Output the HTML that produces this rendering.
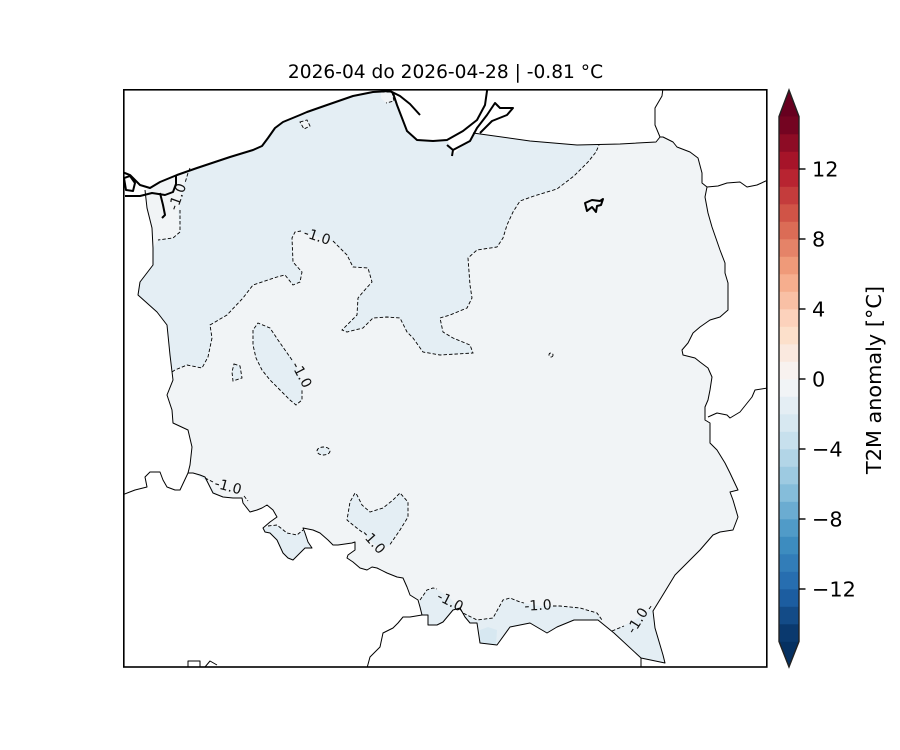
<!DOCTYPE html>
<html><head><meta charset="utf-8"><style>
html,body{margin:0;padding:0;background:#fff;}
svg{display:block;}
text{font-family:"DejaVu Sans","Liberation Sans",sans-serif;}
</style></head><body>
<svg width="900" height="750" viewBox="0 0 900 750" xmlns="http://www.w3.org/2000/svg">
<rect width="900" height="750" fill="#fff"/>
<defs><clipPath id="ax"><rect x="124" y="90" width="643" height="577"/></clipPath></defs>
<text x="445.5" y="78" font-size="18.6" text-anchor="middle" fill="#000">2026-04 do 2026-04-28 | -0.81 °C</text>
<g clip-path="url(#ax)">
<!-- Poland base fill -->
<path fill="#f1f4f6" stroke="none" d="M150,188 L160,182 L177,175 L197,168 L230,157 L253,150 L262,146 L268,138 L275,128 L283,122 L300,115 L307,112 L327,105 L353,96 L373,92 L390,91 L393,93 L397,105 L402,118 L407,131 L417,140 L433,141 L447,140 L453,150 L452,156 L460,148 L470,141 L473,133 L530,141 L577,145 L620,144 L656,142 L660,137 L663,137 L673,142 L677,147 L690,152 L698,158 L702,173 L702,183 L707,187 L705,197 L708,213 L712,227 L720,250 L725,263 L725,273 L728,283 L728,310 L720,317 L710,320 L700,327 L693,333 L688,343 L682,350 L683,355 L695,358 L700,362 L708,368 L712,377 L710,390 L708,400 L705,407 L705,420 L710,423 L710,443 L717,450 L725,463 L730,473 L738,490 L730,492 L733,500 L738,517 L733,530 L720,532 L713,535 L700,550 L695,555 L675,575 L661,598 L653,611 L655,628 L663,655 L665,663 L641,658 L614,633 L598,620 L574,620 L557,627 L547,633 L530,623 L510,627 L497,645 L480,643 L477,623 L470,623 L465,617 L460,608 L453,610 L443,622 L437,625 L428,625 L428,615 L422,615 L420,607 L418,600 L410,595 L407,587 L403,578 L397,577 L387,573 L377,568 L372,567 L367,570 L360,568 L353,562 L347,558 L348,555 L355,550 L355,542 L352,543 L338,545 L333,545 L328,540 L320,533 L313,530 L303,528 L305,533 L308,542 L312,548 L305,548 L300,553 L293,560 L288,558 L283,553 L277,540 L270,533 L265,532 L263,528 L270,522 L277,517 L273,510 L267,505 L262,508 L257,510 L250,512 L243,503 L242,498 L233,498 L223,497 L213,493 L208,483 L205,477 L200,475 L193,473 L188,473 L190,465 L192,447 L188,430 L173,423 L172,410 L167,395 L173,380 L170,355 L167,325 L157,312 L138,295 L140,282 L153,265 L153,248 L152,228 L147,208 L145,190 Z"/>
<!-- darker regions (-2..-1) -->
<g fill="#e4eef4" stroke="none">
<path d="M187,173 L183,188 L178,212 L180,232 L173,238 L158,240 L153,248 L153,265 L140,282 L138,295 L157,312 L167,325 L170,355 L172,372 L175,370 L187,365 L202,368 L208,357 L212,338 L210,325 L227,315 L243,298 L253,285 L277,277 L285,275 L293,285 L300,282 L302,272 L293,262 L292,238 L295,230 L310,234 L333,242 L347,255 L353,267 L368,268 L372,282 L363,292 L358,298 L357,315 L342,330 L347,332 L363,328 L373,318 L387,317 L400,318 L407,332 L413,338 L423,352 L440,355 L473,353 L470,345 L453,338 L443,332 L440,318 L450,315 L467,308 L472,298 L470,285 L468,258 L477,250 L497,247 L503,238 L507,225 L513,212 L520,201 L534,196 L557,189 L574,176 L588,162 L596,152 L599,145 L577,145 L530,141 L473,133 L470,141 L460,148 L452,156 L453,150 L447,140 L433,141 L417,140 L407,131 L402,118 L397,105 L393,93 L390,91 L373,92 L353,96 L327,105 L307,112 L300,115 L283,122 L275,128 L268,138 L262,146 L253,150 L230,157 L197,168 Z"/>
<path d="M258,323 L270,328 L278,340 L285,350 L292,358 L297,368 L302,385 L302,400 L296,405 L290,400 L280,390 L270,380 L262,370 L256,358 L253,345 L253,330 Z"/>
<path d="M234,364 L240,366 L242,378 L233,381 L232,372 Z"/>
<ellipse cx="323.5" cy="451" rx="6.5" ry="4"/>
<path d="M355,493 L350,502 L347,520 L353,525 L362,532 L375,545 L388,547 L400,530 L408,517 L408,502 L400,493 L393,500 L383,508 L370,512 L362,505 L357,495 Z"/>
<path d="M263,528 L277,525 L287,533 L297,535 L303,530 L305,533 L308,542 L312,548 L305,548 L300,553 L293,560 L288,558 L283,553 L277,540 L270,533 L265,532 Z"/>
<path d="M193,473 L200,475 L205,477 L208,483 L213,493 L218,495 L212,488 L205,480 Z"/>
<path d="M420,600 L427,590 L433,588 L440,591 L450,598 L463,613 L477,620 L493,618 L503,600 L510,598 L520,602 L540,606 L560,606 L580,608 L597,613 L602,620 L598,620 L574,620 L557,627 L547,633 L530,623 L510,627 L497,645 L480,643 L477,623 L470,623 L465,617 L460,608 L453,610 L443,622 L437,625 L428,625 L428,615 L422,615 L420,607 Z"/>
<path d="M614,630 L625,625 L638,618 L651,608 L653,611 L655,628 L663,655 L665,663 L641,658 L614,633 Z"/>
</g>
<path fill="#d7e8f1" d="M480,630 L488,627 L497,630 L496,645 L480,643 Z"/>
<!-- small light pockets -->
<path fill="#f1f4f6" d="M300,122 L307,120 L310,126 L304,129 Z"/>
<path fill="#f1f4f6" d="M381,92 L392,92 L394,101 L386,103 L381,98 Z"/>
<!-- dashed contours -->
<g fill="none" stroke="#000" stroke-width="0.9" stroke-dasharray="3.5,2">
<path d="M190,168 L188,173 L185,183"/>
<path d="M180,210 L180,232 L173,238 L158,240"/>
<path d="M172,372 L175,370 L187,365 L202,368 L208,357 L212,338 L210,325 L227,315 L243,298 L253,285 L277,277 L285,275 L293,285 L300,282 L302,272 L293,262 L292,238 L295,232 L301,231"/>
<path d="M333,241 L347,255 L353,267 L368,268 L372,282 L363,292 L358,298 L357,315 L342,330 L347,332 L363,328 L373,318 L387,317 L400,318 L407,332 L413,338 L423,352 L440,355 L473,353 L470,345 L453,338 L443,332 L440,318 L450,315 L467,308 L472,298 L470,285 L468,258 L477,250 L497,247 L503,238 L507,225 L513,212 L520,201 L534,196 L557,189 L574,176 L588,162 L596,152 L599,145"/>
<path d="M292,360 L285,350 L278,340 L270,328 L258,323 L253,330 L253,345 L256,358 L262,370 L270,380 L280,390 L290,400 L296,405 L302,400 L302,389"/>
<path d="M234,364 L240,366 L242,378 L233,381 L232,372 Z"/>
<ellipse cx="323.5" cy="451" rx="6.5" ry="4"/>
<path d="M362,532 L353,525 L347,520 L350,502 L355,493 L357,495 L362,505 L370,512 L383,508 L393,500 L400,493 L408,502 L408,517 L400,530 L389,546"/>
<path d="M268,526 L277,525 L287,533 L297,535 L303,530"/>
<path d="M205,478 L213,482"/>
<path d="M244,496 L248,501"/>
<path d="M420,600 L427,590 L433,588 L437,589"/>
<path d="M460,609 L463,613 L477,620 L493,618 L503,600 L510,598 L520,602 L524,603"/>
<path d="M553,606 L560,606 L580,608 L597,613 L602,620"/>
<path d="M612,631 L624,626"/>
<path d="M649,609 L652,605"/>
<path d="M300,122 L307,120 L310,126 L304,129 Z"/>
<path d="M381,92 L392,92 L394,101 L386,103"/>
<circle cx="551" cy="355" r="2"/>
</g>
<!-- contour labels -->
<g font-size="14" fill="#111" text-anchor="middle" dominant-baseline="central">
<text transform="translate(178,197) rotate(-70)">-1.0</text>
<text transform="translate(317,237) rotate(18)">-1.0</text>
<text transform="translate(301,375) rotate(62)">-1.0</text>
<text transform="translate(228,487) rotate(15)">-1.0</text>
<text transform="translate(373,542) rotate(48)">-1.0</text>
<text transform="translate(450,602) rotate(27)">-1.0</text>
<text transform="translate(538,606) rotate(-3)">-1.0</text>
<text transform="translate(638,621) rotate(-58)">-1.0</text>
</g>
<!-- borders (thin) -->
<g fill="none" stroke="#000" stroke-width="1" stroke-linejoin="round">
<path d="M473,133 L530,141 L577,145 L620,144 L656,142 L660,137 L663,137 L673,142 L677,147 L690,152 L698,158 L702,173 L702,183 L707,187 L705,197 L708,213 L712,227 L720,250 L725,263 L725,273 L728,283 L728,310 L720,317 L710,320 L700,327 L693,333 L688,343 L682,350 L683,355 L695,358 L700,362 L708,368 L712,377 L710,390 L708,400 L705,407 L705,420 L710,423 L710,443 L717,450 L725,463 L730,473 L738,490 L730,492 L733,500 L738,517 L733,530 L720,532 L713,535 L700,550 L695,555 L675,575 L661,598 L653,611 L655,628 L663,655 L665,663 L641,658 L614,633 L598,620 L574,620 L557,627 L547,633 L530,623 L510,627 L497,645 L480,643 L477,623 L470,623 L465,617 L460,608 L453,610 L443,622 L437,625 L428,625 L428,615 L422,615 L420,607 L418,600 L410,595 L407,587 L403,578 L397,577 L387,573 L377,568 L372,567 L367,570 L360,568 L353,562 L347,558 L348,555 L355,550 L355,542 L352,543 L338,545 L333,545 L328,540 L320,533 L313,530 L303,528 L305,533 L308,542 L312,548 L305,548 L300,553 L293,560 L288,558 L283,553 L277,540 L270,533 L265,532 L263,528 L270,522 L277,517 L273,510 L267,505 L262,508 L257,510 L250,512 L243,503 L242,498 L233,498 L223,497 L213,493 L208,483 L205,477 L200,475 L193,473 L188,473 L190,465 L192,447 L188,430 L173,423 L172,410 L167,395 L173,380 L170,355 L167,325 L157,312 L138,295 L140,282 L153,265 L153,248 L152,228 L147,208 L145,190"/>
<path d="M660,137 L655,125 L655,108 L662,96 L663,88"/>
<path d="M707,187 L718,186 L727,183 L740,182 L747,187 L757,185 L768,180"/>
<path d="M708,417 L717,413 L727,415 L730,418 L740,412 L752,397 L755,390 L768,388"/>
<path d="M122,495 L135,490 L147,487 L145,477 L150,472 L160,472 L163,480 L167,487 L175,490 L180,490 L188,473"/>
<path d="M422,615 L410,617 L403,617 L398,623 L393,628 L383,633 L380,647 L370,657 L367,668"/>
<path d="M188,668 L188,661 L200,661 L200,668 M205,667 L210,661 L217,665"/>
<path d="M641,658 L641,668"/>
</g>
<!-- coastlines (thick) -->
<g fill="none" stroke="#000" stroke-width="2" stroke-linejoin="round">
<path d="M122,172 L130,175 L140,185 L150,188 L160,182 L177,175 L197,168 L230,157 L253,150 L262,146 L268,138 L275,128 L283,122 L300,115 L307,112 L327,105 L353,96 L373,92 L390,91 L393,93 L397,105 L402,118 L407,131 L417,140 L433,141 L447,140 L463,131 L477,120 L485,105 L487,91 L487,88"/>
<path d="M390,91 L400,96 L410,104 L420,115"/>
<path d="M447,145 L453,150 L452,156 M453,150 L470,141 L477,128 L487,115 L495,103 L500,108 L513,108 L507,115 L492,121 L480,133"/>
<path d="M124,178 L130,176 L135,183 L133,191 L126,190 Z"/>
<path d="M125,196 L140,196 L152,193 L165,195 L173,192 L176,184 L176,176"/>
<path d="M160,193 L163,205 L165,215 L162,218"/>
<path d="M585,203 L592,200 L600,201 L603,199 L601,205 L597,206 L596,212 L592,207 L587,211 Z"/>
</g>
</g>
<rect x="123.8" y="89.8" width="643" height="577.2" fill="none" stroke="#000" stroke-width="1.6"/>
<!-- colorbar -->
<g>
<polygon points="779,116.5 799,116.5 789,90" fill="#67001f"/>
<polygon points="779,641.5 799,641.5 789,667" fill="#053061"/>
<rect x="779" y="624" width="20" height="17.8" fill="#0a396e"/>
<rect x="779" y="606.5" width="20" height="17.8" fill="#134b87"/>
<rect x="779" y="589" width="20" height="17.8" fill="#1c5da0"/>
<rect x="779" y="571.5" width="20" height="17.8" fill="#276eb0"/>
<rect x="779" y="554" width="20" height="17.8" fill="#327db8"/>
<rect x="779" y="536.5" width="20" height="17.8" fill="#3d8cbf"/>
<rect x="779" y="519" width="20" height="17.8" fill="#509bc8"/>
<rect x="779" y="501.5" width="20" height="17.8" fill="#6bacd1"/>
<rect x="779" y="484" width="20" height="17.8" fill="#85bdda"/>
<rect x="779" y="466.5" width="20" height="17.8" fill="#9dcae1"/>
<rect x="779" y="449" width="20" height="17.8" fill="#b2d5e7"/>
<rect x="779" y="431.5" width="20" height="17.8" fill="#c7e0ed"/>
<rect x="779" y="414" width="20" height="17.8" fill="#d7e8f1"/>
<rect x="779" y="396.5" width="20" height="17.8" fill="#e4eef4"/>
<rect x="779" y="379" width="20" height="17.8" fill="#f1f4f6"/>
<rect x="779" y="361.5" width="20" height="17.8" fill="#f8f2ef"/>
<rect x="779" y="344" width="20" height="17.8" fill="#fae9df"/>
<rect x="779" y="326.5" width="20" height="17.8" fill="#fce0cb"/>
<rect x="779" y="309" width="20" height="17.8" fill="#fcd2bc"/>
<rect x="779" y="291.5" width="20" height="17.8" fill="#f9c0a5"/>
<rect x="779" y="274" width="20" height="17.8" fill="#f6ae8e"/>
<rect x="779" y="256.5" width="20" height="17.8" fill="#ef9a79"/>
<rect x="779" y="239" width="20" height="17.8" fill="#e58368"/>
<rect x="779" y="221.5" width="20" height="17.8" fill="#db6c56"/>
<rect x="779" y="204" width="20" height="17.8" fill="#d05447"/>
<rect x="779" y="186.5" width="20" height="17.8" fill="#c43c3c"/>
<rect x="779" y="169" width="20" height="17.8" fill="#b82431"/>
<rect x="779" y="151.5" width="20" height="17.8" fill="#a61429"/>
<rect x="779" y="134" width="20" height="17.8" fill="#8d0c25"/>
<rect x="779" y="116.5" width="20" height="17.8" fill="#740421"/>
<polygon points="789,90 799,116.5 799,641.5 789,667 779,641.5 779,116.5" fill="none" stroke="#222" stroke-width="1.4" stroke-linejoin="miter"/>
<g stroke="#000" stroke-width="1.4">
<line x1="799" y1="169" x2="805.5" y2="169"/>
<line x1="799" y1="239" x2="805.5" y2="239"/>
<line x1="799" y1="309" x2="805.5" y2="309"/>
<line x1="799" y1="379" x2="805.5" y2="379"/>
<line x1="799" y1="449" x2="805.5" y2="449"/>
<line x1="799" y1="519" x2="805.5" y2="519"/>
<line x1="799" y1="589" x2="805.5" y2="589"/>
</g>
<g font-size="20.8" fill="#000">
<text x="812" y="176.5">12</text>
<text x="812" y="246.5">8</text>
<text x="812" y="316.5">4</text>
<text x="812" y="386.5">0</text>
<text x="812" y="456.5">−4</text>
<text x="812" y="526.5">−8</text>
<text x="812" y="596.5">−12</text>
</g>
<text transform="translate(881,380) rotate(-90)" font-size="20.8" text-anchor="middle" fill="#000">T2M anomaly [°C]</text>
</g>
</svg>
</body></html>
